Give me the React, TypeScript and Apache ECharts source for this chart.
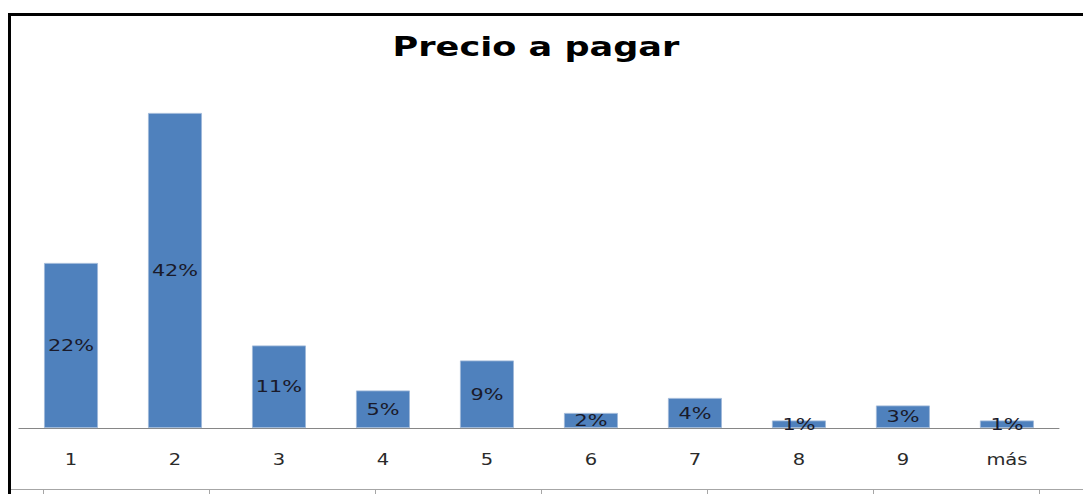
import React, { useEffect, useRef } from "react";
import * as echarts from "echarts";

const categories = ["1", "2", "3", "4", "5", "6", "7", "8", "9", "más"];
const values = [22, 42, 11, 5, 9, 2, 4, 1, 3, 1];
const titleText = "Precio a pagar";

const SX = 1.3;
const W = 1083 / SX;

export default function App() {
  const ref = useRef<HTMLDivElement>(null);
  useEffect(() => {
    if (!ref.current) return;
    const chart = echarts.init(ref.current, null, { renderer: "svg" });
    const cellTicks = [43, 209, 375, 541, 707, 873, 1039];
    chart.setOption({
      animation: false,
      backgroundColor: "#ffffff",
      title: {
        text: titleText,
        left: 297,
        top: 28,
        textStyle: {
          fontFamily: "DejaVu Sans",
          fontWeight: "bold",
          fontSize: 27,
          color: "#000000",
        },
      },
      grid: { left: 19 / SX, right: 24 / SX, top: 90.5, bottom: 66 },
      xAxis: {
        type: "category",
        data: categories,
        axisLine: { lineStyle: { color: "#868686", width: 1 } },
        axisTick: { show: false },
        axisLabel: {
          margin: 24,
          fontFamily: "DejaVu Sans",
          fontSize: 15,
          color: "#2a2a2a",
        },
      },
      yAxis: {
        type: "value",
        min: 0,
        max: 45,
        show: false,
        splitLine: { show: false },
      },
      series: [
        {
          type: "bar",
          data: values,
          barWidth: "52%",
          itemStyle: {
            color: "#4f81bd",
            borderColor: "#9fb8d9",
            borderWidth: 1 / SX,
          },
          label: {
            show: true,
            position: "inside",
            formatter: (p: any) => p.value + "%",
            fontFamily: "DejaVu Sans",
            fontSize: 16,
            color: "#1a1a2a",
          },
        },
      ],
      graphic: [
        { type: "rect", shape: { x: 8 / SX, y: 13, width: W, height: 3 }, style: { fill: "#000" } },
        { type: "rect", shape: { x: 8 / SX, y: 13, width: 3 / SX, height: 481 }, style: { fill: "#000" } },
        { type: "line", shape: { x1: 11 / SX, y1: 489.5, x2: W, y2: 489.5 }, style: { stroke: "#a6a6a6", lineWidth: 1 } },
        ...cellTicks.map((x) => ({
          type: "rect",
          shape: { x: x / SX, y: 489, width: 1 / SX, height: 5 },
          style: { fill: "#a6a6a6" },
        })),
      ],
    });
    return () => chart.dispose();
  }, []);
  return (
    <div
      ref={ref}
      style={{
        position: "absolute",
        left: 0,
        top: 0,
        width: W,
        height: 494,
        transform: `scaleX(${SX})`,
        transformOrigin: "0 0",
      }}
    />
  );
}
